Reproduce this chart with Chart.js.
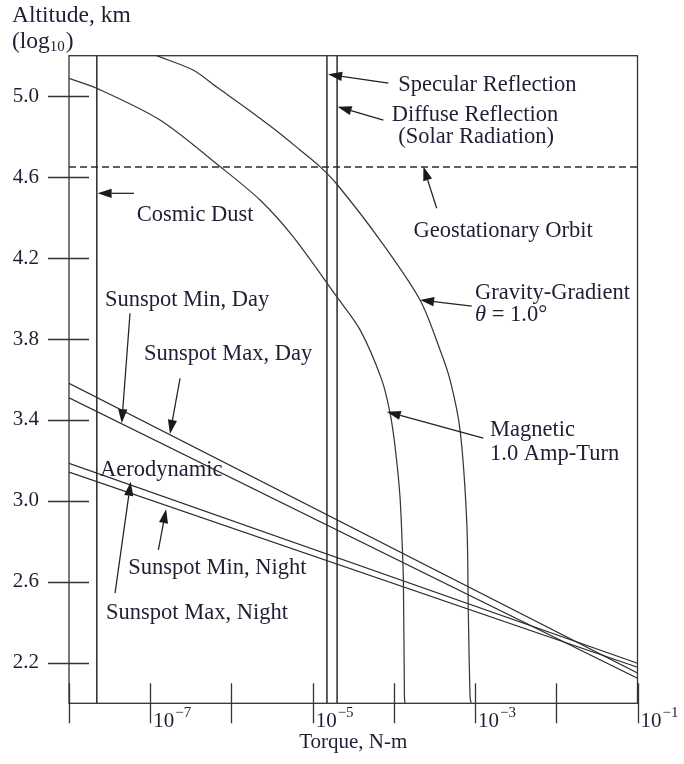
<!DOCTYPE html>
<html>
<head>
<meta charset="utf-8">
<script src="https://cdn.jsdelivr.net/npm/chart.js@4.4.1/dist/chart.umd.min.js"></script>
<style>
  html, body { margin: 0; padding: 0; background: #ffffff; }
  #wrap { width: 684px; height: 764px; }
</style>
</head>
<body>
<div id="wrap"><canvas id="c" width="684" height="764"></canvas></div>
<script>
// ---- Axes ----
const torqueDecades = [-8, -7, -6, -5, -4, -3, -2, -1];
const labeledDecades = [-7, -5, -3, -1];
const altitudeTicks = [2.2, 2.6, 3.0, 3.4, 3.8, 4.2, 4.6, 5.0];
const altitudeRange = [2.0, 5.2];
const torqueRange = [1e-8, 1e-1];

// ---- Gravity-gradient torque, theta = 1.0 deg ----
const gravityTorque = [1.20e-7, 3.37e-7, 6.59e-7, 1.54e-6, 3.61e-6, 7.0e-6, 1.23e-5, 1.98e-5, 6.76e-5,
                       2.10e-4, 3.71e-4, 4.92e-4, 6.53e-4, 7.91e-4, 8.26e-4, 8.67e-4, 8.93e-4];
const gravityAltitude = [5.20, 5.129, 5.045, 4.939, 4.828, 4.734, 4.652, 4.566, 4.289,
                         3.993, 3.746, 3.598, 3.351, 2.891, 2.447, 2.032, 2.00];

// ---- Magnetic torque, 1.0 amp-turn ----
const magneticTorque = [1.0e-8, 2.19e-8, 1.32e-7, 7.24e-7, 2.25e-6, 5.74e-6, 1.98e-5, 3.84e-5,
                        7.10e-5, 8.97e-5, 1.035e-4, 1.19e-4, 1.27e-4, 1.31e-4, 1.35e-4, 1.37e-4];
const magneticAltitude = [5.088, 5.039, 4.882, 4.652, 4.487, 4.306, 4.009, 3.845,
                          3.598, 3.435, 3.268, 3.021, 2.774, 2.610, 2.033, 2.00];

// ---- Aerodynamic torque (straight in log-log), altitude at each end of torque range ----
const aeroTorque = [1e-8, 1e-1];
const sunspotMaxDay = [3.581, 2.150];
const sunspotMinDay = [3.509, 2.124];
const sunspotMaxNight = [3.186, 2.198];
const sunspotMinNight = [3.142, 2.178];

// ---- Constant torques and reference altitude ----
const cosmicDustTorque = 2.2e-8;
const specularTorque = 1.5e-5;
const diffuseTorque = 2.0e-5;
const geostationaryAltitude = 4.65;

// ---- Styling ----
const SERIF = '"Liberation Serif", "DejaVu Serif", serif';
const TEXT = '#1e1e34';
const INK = '#333333';
const NOTE_FONT = '22.5px ' + SERIF;

const pts = (xs, ys) => xs.map((x, i) => ({ x, y: ys[i] }));
const vline = (x) => [{ x, y: altitudeRange[0] }, { x, y: altitudeRange[1] }];

const curve = (data) => ({ data, borderColor: '#383838', borderWidth: 1.25, pointRadius: 0, tension: 0.3, fill: false });
const straight = (data, w) => ({ data, borderColor: '#2a2a2a', borderWidth: w || 1.25, pointRadius: 0, tension: 0, fill: false });

// Labels and arrows: positions in torque (N-m) / altitude (log10 km)
const notes = [
  { lines: [{ text: 'Specular Reflection', at: [1.135e-4, 5.055] }], tip: [1.55e-5, 5.108], tail: [8.55e-5, 5.064] },
  { lines: [{ text: 'Diffuse Reflection', at: [9.42e-5, 4.907] }, { text: '(Solar Radiation)', at: [1.135e-4, 4.798] }],
    tip: [2.03e-5, 4.948], tail: [7.43e-5, 4.882] },
  { lines: [{ text: 'Cosmic Dust', at: [6.82e-8, 4.413] }], tip: [2.25e-8, 4.520], tail: [6.31e-8, 4.520] },
  { lines: [{ text: 'Geostationary Orbit', at: [1.74e-4, 4.334] }], tip: [2.31e-4, 4.652], tail: [3.37e-4, 4.446] },
  { lines: [{ text: 'Gravity-Gradient', at: [1.0e-3, 4.029] }, { parts: [['θ', true], [' = 1.0°', false]], at: [1.0e-3, 3.919] }],
    tip: [2.10e-4, 3.993], tail: [9.10e-4, 3.963] },
  { lines: [{ text: 'Magnetic', at: [1.53e-3, 3.351] }, { text: '1.0 Amp-Turn', at: [1.53e-3, 3.232] }],
    tip: [8.18e-5, 3.441], tail: [1.26e-3, 3.310] },
  { lines: [{ text: 'Sunspot Min, Day', at: [2.77e-8, 3.990] }], tip: [4.46e-8, 3.384], tail: [5.64e-8, 3.927] },
  { lines: [{ text: 'Sunspot Max, Day', at: [8.39e-8, 3.726] }], tip: [1.75e-7, 3.331], tail: [2.33e-7, 3.606] },
  { lines: [{ text: 'Aerodynamic', at: [2.41e-8, 3.153] }] },
  { lines: [{ text: 'Sunspot Min, Night', at: [5.37e-8, 2.667] }], tip: [1.57e-7, 2.959], tail: [1.26e-7, 2.758] },
  { lines: [{ text: 'Sunspot Max, Night', at: [2.86e-8, 2.445] }], tip: [5.75e-8, 3.095], tail: [3.69e-8, 2.544] }
];

function arrow(ctx, x0, y0, x1, y1) {
  const ang = Math.atan2(y1 - y0, x1 - x0);
  const len = 14, half = 4.6;
  const bx = x1 - len * Math.cos(ang), by = y1 - len * Math.sin(ang);
  ctx.beginPath();
  ctx.moveTo(x0, y0);
  ctx.lineTo(bx, by);
  ctx.stroke();
  ctx.beginPath();
  ctx.moveTo(x1, y1);
  ctx.lineTo(bx + half * Math.sin(ang), by - half * Math.cos(ang));
  ctx.lineTo(bx - half * Math.sin(ang), by + half * Math.cos(ang));
  ctx.closePath();
  ctx.fill();
}

// Box frame, crossing tick marks, power-of-ten labels and the altitude heading
const framePlugin = {
  id: 'frame',
  afterDatasetsDraw(chart) {
    const { ctx, chartArea: a, scales: { x, y } } = chart;
    ctx.save();
    ctx.strokeStyle = INK;
    ctx.lineWidth = 1.3;
    ctx.strokeRect(a.left, a.top, a.right - a.left, a.bottom - a.top);
    ctx.beginPath();
    altitudeTicks.forEach(v => {
      const py = Math.round(y.getPixelForValue(v)) + 0.5;
      ctx.moveTo(a.left - 21, py); ctx.lineTo(a.left + 20, py);
    });
    torqueDecades.forEach(e => {
      const px = Math.round(x.getPixelForValue(Math.pow(10, e))) + 0.5;
      ctx.moveTo(px, a.bottom - 20); ctx.lineTo(px, a.bottom + 20);
    });
    ctx.stroke();

    ctx.fillStyle = TEXT;
    ctx.textBaseline = 'middle';
    ctx.textAlign = 'left';
    labeledDecades.forEach(e => {
      const px = x.getPixelForValue(Math.pow(10, e)) + 3;
      ctx.font = '21px ' + SERIF;
      ctx.fillText('10', px, a.bottom + 18);
      const w = ctx.measureText('10').width;
      ctx.font = '15px ' + SERIF;
      ctx.fillText('\u2212' + Math.abs(e), px + w + 1, a.bottom + 10);
    });

    // altitude heading
    ctx.font = '23.5px ' + SERIF;
    ctx.fillText('Altitude, km', 12, 16);
    ctx.fillText('(log', 12, 42);
    let w = ctx.measureText('(log').width;
    ctx.font = '15px ' + SERIF;
    ctx.fillText('10', 12 + w, 47);
    w += ctx.measureText('10').width;
    ctx.font = '23.5px ' + SERIF;
    ctx.fillText(')', 12 + w + 1, 42);
    ctx.restore();
  }
};

const notePlugin = {
  id: 'notes',
  afterDraw(chart) {
    const { ctx, scales: { x, y } } = chart;
    ctx.save();
    ctx.fillStyle = TEXT;
    ctx.textBaseline = 'middle';
    ctx.textAlign = 'left';
    notes.forEach(n => {
      n.lines.forEach(l => {
        const px = x.getPixelForValue(l.at[0]);
        const py = y.getPixelForValue(l.at[1]);
        if (l.text) {
          ctx.font = NOTE_FONT;
          ctx.fillText(l.text, px, py);
        } else {
          let cx = px;
          l.parts.forEach(([t, it]) => {
            ctx.font = (it ? 'italic ' : '') + NOTE_FONT;
            ctx.fillText(t, cx, py);
            cx += ctx.measureText(t).width;
          });
        }
      });
      if (n.tip) {
        ctx.strokeStyle = '#222222';
        ctx.fillStyle = '#1a1a1a';
        ctx.lineWidth = 1.25;
        arrow(ctx, x.getPixelForValue(n.tail[0]), y.getPixelForValue(n.tail[1]),
                   x.getPixelForValue(n.tip[0]), y.getPixelForValue(n.tip[1]));
        ctx.fillStyle = TEXT;
      }
    });
    ctx.restore();
  }
};

new Chart(document.getElementById('c'), {
  type: 'line',
  data: {
    datasets: [
      curve(pts(gravityTorque, gravityAltitude)),
      curve(pts(magneticTorque, magneticAltitude)),
      straight(pts(aeroTorque, sunspotMaxDay)),
      straight(pts(aeroTorque, sunspotMinDay)),
      straight(pts(aeroTorque, sunspotMaxNight)),
      straight(pts(aeroTorque, sunspotMinNight)),
      straight(vline(cosmicDustTorque), 1.5),
      straight(vline(specularTorque), 1.5),
      straight(vline(diffuseTorque), 1.5),
      { data: pts(torqueRange, [geostationaryAltitude, geostationaryAltitude]), borderColor: '#2e2e2e',
        borderWidth: 1.3, borderDash: [7, 4], pointRadius: 0, fill: false }
    ]
  },
  options: {
    responsive: false,
    animation: false,
    devicePixelRatio: 1,
    layout: { padding: { left: 7, right: 46.5, top: 55.7, bottom: 0 } },
    plugins: { legend: { display: false }, tooltip: { enabled: false }, title: { display: false } },
    scales: {
      x: {
        type: 'logarithmic',
        position: 'bottom',
        min: torqueRange[0],
        max: torqueRange[1],
        afterBuildTicks: s => { s.ticks = torqueDecades.map(e => ({ value: Math.pow(10, e) })); },
        afterFit: s => { s.height = 60.7; },
        grid: { display: false, drawTicks: false },
        border: { display: false },
        ticks: { display: false },
        title: { display: true, text: 'Torque, N-m', color: TEXT,
                 font: { family: SERIF, size: 21 }, padding: { top: 0, bottom: 9 } }
      },
      y: {
        type: 'linear',
        min: altitudeRange[0],
        max: altitudeRange[1],
        afterBuildTicks: s => { s.ticks = altitudeTicks.map(v => ({ value: v })); },
        afterFit: s => { s.width = 62; },
        grid: { display: false, drawTicks: false },
        border: { display: false },
        ticks: { color: TEXT, padding: 30, font: { family: SERIF, size: 21 },
                 callback: v => Number(v).toFixed(1) }
      }
    }
  },
  plugins: [framePlugin, notePlugin]
});
</script>
</body>
</html>
